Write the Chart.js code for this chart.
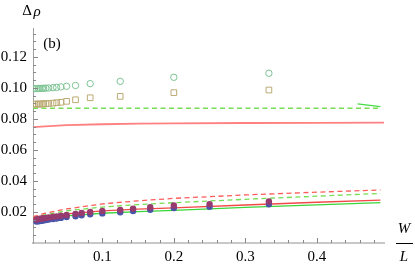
<!DOCTYPE html>
<html>
<head>
<meta charset="utf-8">
<script src="https://cdn.jsdelivr.net/npm/chart.js@4/dist/chart.umd.min.js"></script>
<style>
  html, body { margin: 0; padding: 0; background: #fff; }
  #plot { display: block; }
</style>
</head>
<body>
<canvas id="plot" width="415" height="267"></canvas>
<script>
// simulation points (filled) at W/L = 1/N
const filledX = [0.333, 0.25, 0.2, 0.167, 0.143, 0.125, 0.1, 0.083, 0.071, 0.0625, 0.05, 0.042, 0.036, 0.031, 0.025, 0.021, 0.018, 0.0156, 0.0125, 0.0104, 0.0078];
const purpleY = [0.0268, 0.0251, 0.0242, 0.0231, 0.0222, 0.0214, 0.0207, 0.0200, 0.0194, 0.0188, 0.0181, 0.0176, 0.0172, 0.0169, 0.0165, 0.0162, 0.0160, 0.0158, 0.0156, 0.0154, 0.0152];
const blueY = [0.0250, 0.0234, 0.0225, 0.0214, 0.0206, 0.0198, 0.0191, 0.0185, 0.0179, 0.0173, 0.0167, 0.0162, 0.0158, 0.0155, 0.0151, 0.0148, 0.0146, 0.0144, 0.0142, 0.0140, 0.0138];

// open markers
const openX = [0.333, 0.2, 0.125, 0.083, 0.0625, 0.05, 0.042, 0.036, 0.031, 0.025, 0.021, 0.018, 0.0156, 0.0125, 0.0104, 0.0078, 0.0052];
const circleY = [0.1095, 0.1069, 0.1043, 0.1028, 0.1016, 0.1011, 0.1007, 0.1004, 0.1002, 0.1000, 0.0999, 0.0998, 0.0998, 0.0997, 0.0997, 0.0996, 0.0996];
const squareY = [0.0987, 0.0970, 0.0946, 0.0937, 0.0924, 0.0914, 0.0908, 0.0905, 0.0902, 0.0900, 0.0899, 0.0898, 0.0897, 0.0897, 0.0896, 0.0896, 0.0896];

// curves
const curveX = [0.003, 0.02, 0.05, 0.1, 0.15, 0.2, 0.3, 0.4, 0.489];
const redDashLow = [0.0170, 0.0192, 0.0220, 0.0252, 0.0272, 0.0288, 0.0310, 0.0328, 0.0342];
const greenDashLow = [0.0165, 0.0183, 0.0208, 0.0232, 0.0248, 0.0260, 0.0282, 0.0302, 0.0320];
const redSolidLow = [0.0155, 0.0168, 0.0188, 0.0207, 0.0218, 0.0226, 0.0245, 0.0263, 0.0277];
const greenSolidLow = [0.0140, 0.0155, 0.0175, 0.0192, 0.0202, 0.0210, 0.0230, 0.0246, 0.0260];

const redTopX = [0.003, 0.02, 0.05, 0.1, 0.15, 0.2, 0.3, 0.4, 0.494];
const redTop = [0.0748, 0.0753, 0.0760, 0.0766, 0.0770, 0.0772, 0.0774, 0.0775, 0.0776];
const greenDashTopX = [0.003, 0.489];
const greenDashTop = [0.0869, 0.0869];
const greenSolidTopX = [0.457, 0.489];
const greenSolidTop = [0.0897, 0.0880];

// ticks
const xTickVals = [0.02, 0.04, 0.06, 0.08, 0.1, 0.12, 0.14, 0.16, 0.18, 0.2, 0.22, 0.24, 0.26, 0.28, 0.3, 0.32, 0.34, 0.36, 0.38, 0.4, 0.42, 0.44, 0.46, 0.48];
const xMajor = [0.1, 0.2, 0.3, 0.4];
const yTickVals = [0.005, 0.01, 0.015, 0.02, 0.025, 0.03, 0.035, 0.04, 0.045, 0.05, 0.055, 0.06, 0.065, 0.07, 0.075, 0.08, 0.085, 0.09, 0.095, 0.1, 0.105, 0.11, 0.115, 0.12, 0.125, 0.13, 0.135];
const yMajor = [0.02, 0.04, 0.06, 0.08, 0.1, 0.12];

const serif = 'Liberation Serif';

function pts(xs, ys) {
  return xs.map((x, i) => ({ x: x, y: ys[i] }));
}
function isIn(list, v) {
  return list.some(m => Math.abs(m - v) < 1e-9);
}
function curve(xs, ys, color, width, dash) {
  return {
    data: pts(xs, ys),
    showLine: true,
    borderColor: color,
    borderWidth: width,
    borderDash: dash || [],
    pointRadius: 0,
    fill: false
  };
}

// inward Mathematica style ticks + extra labels
const decorations = {
  id: 'decorations',
  afterDraw(chart) {
    const c = chart.ctx;
    const xs = chart.scales.x, ys = chart.scales.y;
    const a = chart.chartArea;
    c.save();
    c.strokeStyle = '#888';
    c.lineWidth = 1;
    yTickVals.forEach(v => {
      const py = Math.round(ys.getPixelForValue(v)) + 0.5;
      const len = isIn(yMajor, v) ? 5 : 3;
      c.beginPath();
      c.moveTo(a.left, py);
      c.lineTo(a.left + len, py);
      c.stroke();
    });
    xTickVals.forEach(v => {
      const px = Math.round(xs.getPixelForValue(v)) + 0.5;
      const len = isIn(xMajor, v) ? 5 : 3;
      c.beginPath();
      c.moveTo(px, a.bottom);
      c.lineTo(px, a.bottom - len);
      c.stroke();
    });

    c.fillStyle = '#000';
    c.textAlign = 'center';
    c.textBaseline = 'middle';
    c.font = '15px "' + serif + '"';
    c.fillText('(b)', 52, 44);
    c.fillText('\u0394', 27, 11);
    c.font = 'italic 15px "' + serif + '"';
    c.fillText('\u03C1', 37, 12);
    // W / L fraction
    c.fillText('W', 404, 229);
    c.fillText('L', 404, 257);
    c.strokeStyle = '#000';
    c.beginPath();
    c.moveTo(396, 243.5);
    c.lineTo(413, 243.5);
    c.stroke();
    c.restore();
  }
};

const ctx = document.getElementById('plot').getContext('2d');
const chart = new Chart(ctx, {
  type: 'scatter',
  data: {
    datasets: [
      {
        data: pts(filledX, purpleY),
        pointStyle: 'circle',
        pointRadius: 3.2,
        pointBackgroundColor: '#973a6e',
        pointBorderColor: '#973a6e',
        pointBorderWidth: 0
      },
      {
        data: pts(filledX, blueY),
        pointStyle: 'circle',
        pointRadius: 3.2,
        pointBackgroundColor: '#4a55a8',
        pointBorderColor: '#4a55a8',
        pointBorderWidth: 0
      },
      {
        data: pts(openX, circleY),
        pointStyle: 'circle',
        pointRadius: 3.2,
        pointBackgroundColor: 'rgba(0,0,0,0)',
        pointBorderColor: '#7cc392',
        pointBorderWidth: 1
      },
      {
        data: pts(openX, squareY),
        pointStyle: 'rect',
        pointRadius: 4,
        pointBackgroundColor: 'rgba(0,0,0,0)',
        pointBorderColor: '#bcaa74',
        pointBorderWidth: 1
      },
      curve(curveX, redDashLow, '#ff5c5c', 1.3, [5, 3.5]),
      curve(curveX, greenDashLow, '#77dd55', 1.3, [5, 3.5]),
      curve(curveX, redSolidLow, '#f24848', 1.3),
      curve(curveX, greenSolidLow, '#3ad63a', 1.3),
      curve(redTopX, redTop, '#ff8080', 1.8),
      curve(greenDashTopX, greenDashTop, '#77dd55', 1.4, [5, 3.5]),
      curve(greenSolidTopX, greenSolidTop, '#44dd44', 1.2)
    ]
  },
  options: {
    responsive: false,
    animation: false,
    layout: { padding: { left: 0, right: 31, top: 28, bottom: 0 } },
    plugins: {
      legend: { display: false },
      tooltip: { enabled: false }
    },
    scales: {
      x: {
        type: 'linear',
        min: 0.003,
        max: 0.494,
        afterFit: s => { s.height = 24; },
        afterBuildTicks: s => { s.ticks = xTickVals.map(v => ({ value: v })); },
        grid: { display: false, drawTicks: false },
        border: { display: true, color: '#c8c8c8', width: 2 },
        ticks: {
          autoSkip: false,
          maxRotation: 0,
          padding: 5,
          color: '#000',
          font: { family: serif, size: 15 },
          callback: v => isIn(xMajor, v) ? String(Math.round(v * 10) / 10) : ''
        }
      },
      y: {
        type: 'linear',
        min: 0,
        max: 0.1387,
        afterFit: s => { s.width = 33; },
        afterBuildTicks: s => { s.ticks = yTickVals.map(v => ({ value: v })); },
        grid: { display: false, drawTicks: false },
        border: { display: true, color: '#a0a0a0', width: 1 },
        ticks: {
          autoSkip: false,
          padding: 6,
          color: '#000',
          font: { family: serif, size: 15 },
          callback: v => isIn(yMajor, v) ? v.toFixed(2) : ''
        }
      }
    }
  },
  plugins: [decorations]
});
</script>
</body>
</html>
